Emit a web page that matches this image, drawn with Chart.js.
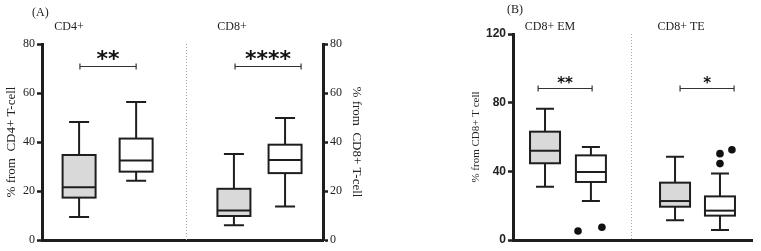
<!DOCTYPE html>
<html>
<head>
<meta charset="utf-8">
<script src="https://cdn.jsdelivr.net/npm/chart.js@4"></script>
<style>
  body { margin: 0; background: #fff; width: 761px; height: 251px; position: relative; overflow: hidden; }
  canvas { position: absolute; top: 0; }
  #cA { left: 0; }
  #cB { left: 380px; }
  .tag { position: absolute; font: 12px "Liberation Serif", serif; color: #222; }
</style>
</head>
<body>
<canvas id="cA" width="380" height="251"></canvas>
<canvas id="cB" width="381" height="251"></canvas>
<div class="tag" style="left:32px;top:5px">(A)</div>
<div class="tag" style="left:507px;top:2px">(B)</div>
<script>
// ---- panel A : CD4+ / CD8+ ----
const groupsA = ['CD4+', 'CD8+'];
const groupXA = [9.6, 67.6];
const posA = [13.2, 33.5, 68.3, 86.5];
const lowA = [9.4, 24.2, 6.0, 13.7];
const q1A = [17.3, 27.9, 9.8, 27.3];
const medA = [21.5, 32.5, 12.0, 32.7];
const q3A = [34.7, 41.4, 20.9, 38.9];
const highA = [48.2, 56.3, 35.1, 49.8];
const sigA = ['**', '****'];
const sigFromA = [13.5, 68.7];
const sigToA = [33.5, 92.2];
const sigYA = [71, 71];
const outXA = [];
const outYA = [];

// ---- panel B : CD8+ EM / CD8+ TE ----
const groupsB = ['CD8+ EM', 'CD8+ TE'];
const groupXB = [15.5, 70.3];
const posB = [13.4, 32.6, 67.8, 86.6];
const lowB = [31.0, 22.7, 11.5, 5.8];
const q1B = [44.7, 33.8, 19.4, 14.2];
const medB = [52.0, 39.6, 22.7, 17.1];
const q3B = [63.1, 49.3, 33.4, 25.4];
const highB = [76.5, 54.2, 48.5, 38.8];
const sigB = ['**', '*'];
const sigFromB = [10.5, 69.9];
const sigToB = [33.1, 92.5];
const sigYB = [88.7, 88.7];
const outXB = [27.2, 37.2, 86.6, 86.6, 91.6];
const outYB = [5.2, 7.4, 44.5, 50.3, 52.6];

const fills = ['#d9d9d9', '#ffffff', '#d9d9d9', '#ffffff'];
const ink = '#1e1e1e';

function boxPlugin(d) {
  return {
    id: 'boxes',
    beforeDatasetsDraw(chart) {
      const { ctx, scales: { x, y }, chartArea } = chart;
      ctx.save();
      // dotted divider between groups
      ctx.strokeStyle = '#aaa';
      ctx.lineWidth = 1;
      ctx.setLineDash([1, 2]);
      const dx = Math.round(x.getPixelForValue(d.divider)) + 0.5;
      ctx.beginPath();
      ctx.moveTo(dx, chartArea.top);
      ctx.lineTo(dx, chartArea.bottom);
      ctx.stroke();
      ctx.setLineDash([]);

      ctx.strokeStyle = ink;
      ctx.lineWidth = 2;
      d.pos.forEach((p, i) => {
        const cx = x.getPixelForValue(p);
        const yl = y.getPixelForValue(d.low[i]);
        const y1 = y.getPixelForValue(d.q1[i]);
        const ym = y.getPixelForValue(d.med[i]);
        const y3 = y.getPixelForValue(d.q3[i]);
        const yh = y.getPixelForValue(d.high[i]);
        ctx.beginPath();
        ctx.moveTo(cx, yh); ctx.lineTo(cx, y3);
        ctx.moveTo(cx, y1); ctx.lineTo(cx, yl);
        ctx.moveTo(cx - d.cap, yh); ctx.lineTo(cx + d.cap, yh);
        ctx.moveTo(cx - d.cap, yl); ctx.lineTo(cx + d.cap, yl);
        ctx.stroke();
        ctx.fillStyle = fills[i];
        ctx.fillRect(cx - d.half, y3, d.half * 2, y1 - y3);
        ctx.strokeRect(cx - d.half, y3, d.half * 2, y1 - y3);
        ctx.beginPath();
        ctx.moveTo(cx - d.half, ym); ctx.lineTo(cx + d.half, ym);
        ctx.stroke();
      });
      ctx.restore();
    },
    afterDraw(chart) {
      const { ctx, scales: { x, y } } = chart;
      ctx.save();
      ctx.strokeStyle = '#333';
      ctx.lineWidth = 1.2;
      d.sig.forEach((s, i) => {
        const xa = x.getPixelForValue(d.sigFrom[i]);
        const xb = x.getPixelForValue(d.sigTo[i]);
        const yy = Math.round(y.getPixelForValue(d.sigY[i])) + 0.5;
        ctx.beginPath();
        ctx.moveTo(xa, yy); ctx.lineTo(xb, yy);
        ctx.moveTo(xa, yy - 3); ctx.lineTo(xa, yy + 3);
        ctx.moveTo(xb, yy - 3); ctx.lineTo(xb, yy + 3);
        ctx.stroke();
        ctx.fillStyle = '#111';
        ctx.font = 'bold ' + d.starSize + 'px "DejaVu Sans"';
        ctx.textAlign = 'center';
        ctx.textBaseline = 'alphabetic';
        ctx.fillText(s, (xa + xb) / 2, yy - 1);
      });
      ctx.fillStyle = '#222';
      ctx.font = '12px "Liberation Serif"';
      ctx.textAlign = 'center';
      ctx.textBaseline = 'middle';
      d.groups.forEach((g, i) => {
        ctx.fillText(g, x.getPixelForValue(d.groupX[i]), 27);
      });
      ctx.restore();
    }
  };
}

function yAxis(max, step, title, titleSize, tickFont, width, position) {
  return {
    type: 'linear',
    position: position,
    display: true,
    min: 0,
    max: max,
    ticks: { stepSize: step, color: '#222', font: tickFont, padding: 2 },
    grid: { drawOnChartArea: false, tickLength: 5, tickWidth: 2.5, tickColor: ink },
    border: { width: 3, color: ink },
    title: {
      display: true, text: title, color: '#222',
      font: { family: 'Liberation Serif', size: titleSize },
      padding: { top: 4, bottom: 0 }
    },
    afterFit: s => { s.width = width; }
  };
}

const xAxis = {
  type: 'linear', min: 0, max: 100,
  ticks: { display: false },
  grid: { display: false },
  border: { width: 3, color: ink },
  afterFit: s => { s.height = 0; }
};

const serifTicks = { family: 'Liberation Serif', size: 12 };
const boldTicks = { family: 'Liberation Sans', size: 12, weight: 'bold' };

new Chart(document.getElementById('cA'), {
  type: 'scatter',
  data: {
    datasets: [{
      data: outXA.map((v, i) => ({ x: v, y: outYA[i] })),
      pointRadius: 3.8, backgroundColor: '#111', borderWidth: 0
    }]
  },
  options: {
    responsive: false,
    animation: false,
    layout: { padding: { left: 0, top: 44, right: 12, bottom: 11 } },
    plugins: { legend: { display: false }, tooltip: { enabled: false } },
    scales: {
      x: xAxis,
      y: yAxis(80, 20, '% from  CD4+ T-cell', 13, serifTicks, 42, 'left'),
      y2: yAxis(80, 20, '% from  CD8+ T-cell', 13, serifTicks, 45, 'right')
    }
  },
  plugins: [boxPlugin({
    pos: posA, low: lowA, q1: q1A, med: medA, q3: q3A, high: highA,
    sig: sigA, sigFrom: sigFromA, sigTo: sigToA, sigY: sigYA,
    groups: groupsA, groupX: groupXA, divider: 51.2,
    half: 16.5, cap: 10, starSize: 22
  })]
});

new Chart(document.getElementById('cB'), {
  type: 'scatter',
  data: {
    datasets: [{
      data: outXB.map((v, i) => ({ x: v, y: outYB[i] })),
      pointRadius: 3.8, backgroundColor: '#111', borderWidth: 0
    }]
  },
  options: {
    responsive: false,
    animation: false,
    layout: { padding: { left: 86, top: 34, right: 9, bottom: 11 } },
    plugins: { legend: { display: false }, tooltip: { enabled: false } },
    scales: {
      x: xAxis,
      y: yAxis(120, 40, '% from CD8+ T cell', 11, boldTicks, 47, 'left')
    }
  },
  plugins: [boxPlugin({
    pos: posB, low: lowB, q1: q1B, med: medB, q3: q3B, high: highB,
    sig: sigB, sigFrom: sigFromB, sigTo: sigToB, sigY: sigYB,
    groups: groupsB, groupX: groupXB, divider: 49.4,
    half: 15, cap: 9, starSize: 15
  })]
});
</script>
</body>
</html>
